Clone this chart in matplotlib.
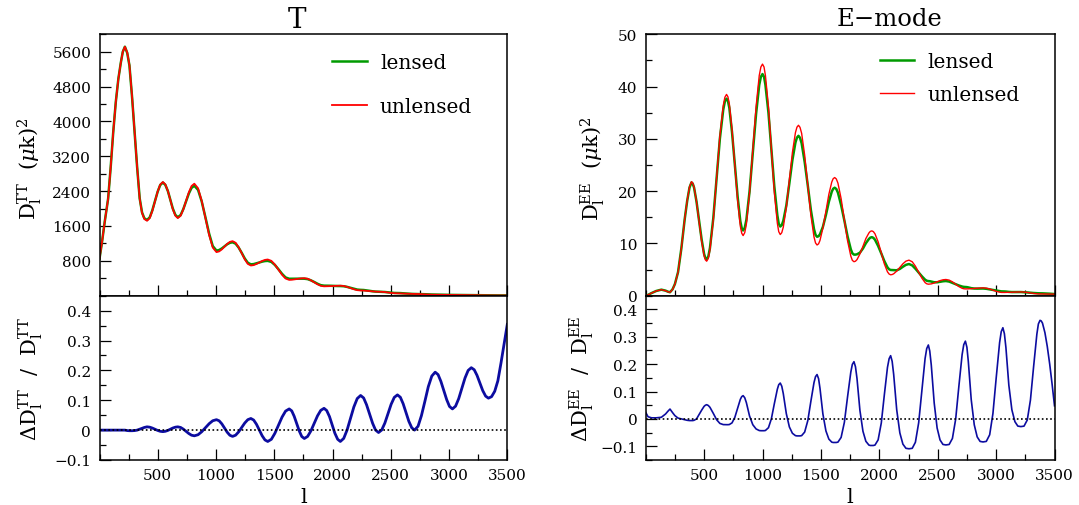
import numpy as np
import matplotlib
matplotlib.use("Agg")
import matplotlib.pyplot as plt
from matplotlib.ticker import MultipleLocator, FuncFormatter

# ---------------- data ----------------
# Temperature (TT) column
ell_tt = [0, 20, 45, 74, 96, 118, 140, 162, 183, 200, 218, 238, 257, 280, 301, 323, 345, 365, 385, 408,
          431, 453, 476, 499, 521, 544,
          565, 587, 608, 629, 651, 672,
          696, 719, 743, 767, 790, 814,
          846, 877, 909, 941, 972, 1004,
          1027, 1050, 1073, 1096, 1119, 1142,
          1168, 1194, 1221, 1247, 1273, 1299,
          1323, 1347, 1372, 1396, 1420, 1444,
          1475, 1505, 1536, 1567, 1597, 1628,
          1650, 1671, 1693, 1715, 1736, 1758,
          1786, 1814, 1843, 1871, 1899, 1927,
          1950, 1974, 1997, 2020, 2044, 2067,
          2096, 2125, 2154, 2183, 2212, 2241,
          2267, 2292, 2318, 2344, 2369, 2395,
          2422, 2449, 2476, 2503, 2530, 2557,
          2582, 2606, 2631, 2655, 2680, 2704,
          2734, 2763, 2793, 2822, 2852, 2881,
          2906, 2930, 2955, 2980, 3004, 3029,
          3056, 3083, 3110, 3137, 3164, 3191,
          3216, 3240, 3265, 3289, 3314, 3338,
          3365, 3392, 3419, 3446, 3473, 3500]

tt_unlensed = [850, 1200, 1700, 2226, 2950, 3760, 4450, 4980, 5350, 5600, 5715, 5580, 5293, 4550, 3760, 2950, 2226, 1900, 1760, 1720,
               1780, 1943, 2165, 2388, 2550, 2610,
               2554, 2403, 2196, 1988, 1837, 1781,
               1834, 1979, 2176, 2374, 2518, 2571,
               2466, 2178, 1786, 1393, 1105, 1000,
               1017, 1063, 1126, 1189, 1235, 1252,
               1215, 1112, 973, 833, 730, 693,
               702, 728, 762, 797, 822, 831,
               800, 714, 597, 480, 394, 363,
               366, 373, 382, 392, 398, 401,
               389, 354, 308, 262, 227, 215,
               216, 219, 222, 226, 229, 230,
               223, 202, 175, 148, 127, 120,
               118, 113, 106, 99, 94, 92,
               89, 83, 73, 64, 57, 55,
               54, 51, 47, 44, 41, 40,
               39, 35, 31, 26, 23, 22,
               22, 21, 19, 18, 17, 17,
               16, 15, 13, 12, 10, 10,
               10, 9, 9, 8, 8, 8,
               7, 7, 6, 6, 5, 5]

# relative difference (lensed - unlensed) / unlensed
tt_ratio = [0, 0, 0, 0, 0, 0, 0, 0, 0, 0, 0, -0.0015, -0.002, -0.002, -0.0015, 0.0, 0.003, 0.006, 0.009, 0.011,
            0.0099, 0.007, 0.003, -0.001, -0.0039, -0.005,
            -0.0039, -0.001, 0.003, 0.007, 0.0099, 0.011,
            0.009, 0.0035, -0.004, -0.0115, -0.017, -0.019,
            -0.0154, -0.0055, 0.008, 0.0215, 0.0314, 0.035,
            0.0312, 0.021, 0.007, -0.007, -0.0172, -0.021,
            -0.017, -0.006, 0.009, 0.024, 0.035, 0.039,
            0.0338, 0.0198, 0.0005, -0.0188, -0.0328, -0.038,
            -0.0307, -0.0108, 0.0165, 0.0438, 0.0637, 0.071,
            0.0644, 0.0463, 0.0215, -0.0033, -0.0214, -0.028,
            -0.0212, -0.0028, 0.0225, 0.0478, 0.0662, 0.073,
            0.0656, 0.0453, 0.0175, -0.0103, -0.0306, -0.038,
            -0.0277, 0.0005, 0.039, 0.0775, 0.1057, 0.116,
            0.1077, 0.085, 0.054, 0.023, 0.0003, -0.008,
            0.0004, 0.0235, 0.055, 0.0865, 0.1096, 0.118,
            0.1101, 0.0885, 0.059, 0.0295, 0.0079, 0.0,
            0.013, 0.0485, 0.097, 0.1455, 0.181, 0.194,
            0.1858, 0.1633, 0.1325, 0.1018, 0.0792, 0.071,
            0.0802, 0.1055, 0.140, 0.1745, 0.1998, 0.209,
            0.2022, 0.1835, 0.158, 0.1325, 0.1138, 0.107,
            0.112, 0.13, 0.165, 0.225, 0.29, 0.354]

# E-mode (EE) column
ell_ee = [0, 20, 50, 90, 134, 170, 190, 208, 230, 250, 277, 305, 334, 355, 375, 392,
          403, 414, 435, 457, 479, 500, 511, 522,
          536, 550, 579, 607, 635, 664, 678, 692,
          704, 716, 739, 763, 787, 810, 822, 834,
          848, 862, 889, 917, 945, 972, 986, 1000,
          1013, 1025, 1051, 1076, 1101, 1127, 1139, 1152,
          1165, 1178, 1204, 1230, 1256, 1282, 1295, 1308,
          1321, 1335, 1361, 1388, 1414, 1441, 1454, 1467,
          1480, 1492, 1517, 1543, 1568, 1593, 1605, 1618,
          1632, 1646, 1673, 1701, 1728, 1756, 1769, 1783,
          1796, 1809, 1834, 1860, 1885, 1911, 1923, 1936,
          1949, 1963, 1990, 2017, 2043, 2070, 2084, 2097,
          2110, 2123, 2149, 2176, 2202, 2228, 2254,
          2282, 2309, 2337, 2365, 2392, 2406, 2420,
          2432, 2445, 2470, 2495, 2520, 2545, 2570,
          2598, 2626, 2654, 2681, 2709, 2723, 2737,
          2750, 2762, 2787, 2813, 2838, 2863, 2888,
          2916, 2945, 2973, 3001, 3030, 3044, 3058,
          3071, 3084, 3109, 3135, 3161, 3186, 3212,
          3239, 3267, 3294, 3321, 3349, 3362, 3376,
          3386, 3397, 3418, 3438, 3459, 3480, 3500]

ee_unlensed = [0.0, 0.15, 0.5, 0.9, 1.15, 0.95, 0.75, 0.64, 1.2, 2.2, 4.5, 9.0, 14.7, 18.2, 20.8, 21.8,
               21.54, 20.78, 18.0, 14.2, 10.4, 7.62, 6.86, 6.6,
               7.14, 8.74, 14.58, 22.55, 30.53, 36.36, 37.96, 38.5,
               38.04, 36.69, 31.75, 25.0, 18.25, 13.31, 11.96, 11.5,
               12.06, 13.70, 19.70, 27.9, 36.1, 42.1, 43.74, 44.3,
               43.75, 42.12, 36.15, 28.0, 19.85, 13.88, 12.25, 11.7,
               12.06, 13.10, 16.93, 22.15, 27.38, 31.20, 32.24, 32.6,
               32.21, 31.07, 26.88, 21.15, 15.43, 11.23, 10.09, 9.7,
               9.92, 10.56, 12.93, 16.15, 19.38, 21.74, 22.38, 22.6,
               22.33, 21.52, 18.58, 14.55, 10.53, 7.58, 6.77, 6.5,
               6.6, 6.90, 7.98, 9.45, 10.93, 12.0, 12.3, 12.4,
               12.26, 11.84, 10.3, 8.2, 6.1, 4.56, 4.14, 4.0,
               4.05, 4.19, 4.7, 5.4, 6.1, 6.61, 6.8,
               6.49, 5.65, 4.5, 3.35, 2.51, 2.28, 2.2,
               2.22, 2.26, 2.43, 2.65, 2.88, 3.04, 3.1,
               2.98, 2.65, 2.2, 1.75, 1.42, 1.33, 1.3,
               1.3, 1.31, 1.35, 1.4, 1.45, 1.49, 1.5,
               1.44, 1.28, 1.06, 0.84, 0.68, 0.63, 0.62,
               0.62, 0.63, 0.65, 0.67, 0.70, 0.71, 0.72,
               0.69, 0.625, 0.53, 0.435, 0.365, 0.345, 0.34,
               0.337, 0.335, 0.33, 0.325, 0.32, 0.31, 0.3]

ee_ratio = [0.024, 0.008, 0.004, 0.004, 0.006, 0.018, 0.028, 0.036, 0.023, 0.012, 0.003, 0.0, -0.003, -0.005, -0.006, -0.006,
            -0.006, -0.005, 0.0, 0.016, 0.032, 0.046, 0.050, 0.052,
            0.049, 0.0425, 0.0201, -0.0028, -0.0164, -0.0207, -0.021, -0.021,
            -0.021, -0.0205, -0.0144, 0.0055, 0.0386, 0.0712, 0.0814, 0.085,
            0.0773, 0.0594, 0.0108, -0.0212, -0.0366, -0.0424, -0.043, -0.043,
            -0.043, -0.0422, -0.0321, 0.0005, 0.0549, 0.1084, 0.125, 0.131,
            0.1194, 0.0924, 0.0191, -0.0292, -0.0524, -0.061, -0.062, -0.062,
            -0.062, -0.061, -0.048, -0.006, 0.064, 0.1329, 0.1544, 0.162,
            0.1471, 0.1124, 0.0182, -0.0438, -0.0736, -0.0848, -0.086, -0.086,
            -0.086, -0.0847, -0.0676, -0.0123, 0.0799, 0.1707, 0.199, 0.209,
            0.1906, 0.1478, 0.0315, -0.045, -0.0817, -0.0955, -0.097, -0.097,
            -0.097, -0.0955, -0.0765, -0.015, 0.0875, 0.1884, 0.2199, 0.231,
            0.2106, 0.163, 0.0338, -0.0512, -0.092, -0.1073, -0.109,
            -0.1073, -0.0853, -0.0143, 0.1042, 0.2207, 0.2571, 0.270,
            0.2481, 0.197, 0.0583, -0.033, -0.0768, -0.0932, -0.095,
            -0.0933, -0.0713, -0.0003, 0.1182, 0.2347, 0.2711, 0.284,
            0.2619, 0.2104, 0.0706, -0.0214, -0.0656, -0.0822, -0.084,
            -0.0821, -0.0579, 0.0203, 0.1506, 0.2788, 0.3188, 0.333,
            0.3113, 0.2608, 0.1236, 0.0334, -0.01, -0.0262, -0.028,
            -0.0263, -0.0038, 0.069, 0.1903, 0.3096, 0.3468, 0.360,
            0.358, 0.350, 0.315, 0.265, 0.200, 0.125, 0.048]

tt_yticks = [800, 1600, 2400, 3200, 4000, 4800, 5600]
ee_yticks = [0, 10, 20, 30, 40, 50]
ratio_yticks = [-0.1, 0, 0.1, 0.2, 0.3, 0.4]
x_ticks = [500, 1000, 1500, 2000, 2500, 3000, 3500]

# lensed spectra follow from unlensed spectra and the plotted ratio
tt_lensed = np.array(tt_unlensed) * (1 + np.array(tt_ratio))
ee_lensed = np.array(ee_unlensed) * (1 + np.array(ee_ratio))

# ---------------- styling ----------------
plt.rcParams["font.family"] = ["DejaVu Serif"]
plt.rcParams["mathtext.fontset"] = "dejavuserif"
plt.rcParams["lines.solid_joinstyle"] = "round"

GREEN = "#009a00"
RED = "#ff0000"
BLUE = "#0c0ca0"

W, H = 1079, 506
fig = plt.figure(figsize=(W / 100, H / 100), dpi=100)

def frac_axes(x0, x1, ytop, ybot):
    return [x0 / W, 1 - ybot / H, (x1 - x0) / W, (ybot - ytop) / H]

axTT = fig.add_axes(frac_axes(99.5, 507.3, 35.3, 296.7))
axTTr = fig.add_axes(frac_axes(99.5, 507.3, 296.7, 461.0))
axEE = fig.add_axes(frac_axes(645.7, 1054.5, 35.3, 296.7))
axEEr = fig.add_axes(frac_axes(645.7, 1054.5, 296.7, 461.0))

def fmt_num(v, pos=None):
    if abs(v) < 1e-9:
        return "0"
    return ("%g" % v).replace("-", "\u2212")

def style(ax, bottom_labels):
    for s in ax.spines.values():
        s.set_linewidth(1.1)
    ax.set_xlim(0, 3500)
    ax.set_xticks(x_ticks)
    ax.xaxis.set_minor_locator(MultipleLocator(250))
    ax.tick_params(which="both", direction="in", top=False, right=False,
                   labelsize=11, width=0.9, pad=6)
    ax.tick_params(which="major", length=8)
    ax.tick_params(which="minor", length=4.3)
    ax.yaxis.set_major_formatter(FuncFormatter(fmt_num))
    ax.xaxis.set_major_formatter(FuncFormatter(fmt_num))
    if not bottom_labels:
        ax.tick_params(axis="x", labelbottom=False)

# --- TT top ---
axTT.plot(ell_tt, tt_lensed, color=GREEN, lw=1.8, label="lensed")
axTT.plot(ell_tt, tt_unlensed, color=RED, lw=1.3, label="unlensed")
style(axTT, False)
axTT.set_ylim(0, 6000)
axTT.set_yticks(tt_yticks)
axTT.yaxis.set_minor_locator(MultipleLocator(400))
axTT.set_ylabel(r"$\mathrm{D}_\mathrm{l}^\mathrm{TT}\ \ (\mu\mathrm{k})^2$", fontsize=15)
axTT.yaxis.set_label_coords(-0.172, 0.49)
axTT.legend(loc="upper left", bbox_to_anchor=(0.571, 0.93), frameon=False, fontsize=14.5,
            handlelength=1.73, handletextpad=0.63, labelspacing=1.25, borderpad=0, borderaxespad=0)

# --- TT ratio ---
axTTr.plot(ell_tt, tt_ratio, color=BLUE, lw=2.0)
axTTr.axhline(0, color="black", lw=1.2, ls=(0, (1, 1.5)))
style(axTTr, True)
axTTr.set_ylim(-0.1, 0.45)
axTTr.set_yticks(ratio_yticks)
axTTr.yaxis.set_minor_locator(MultipleLocator(0.05))
axTTr.set_ylabel(r"$\Delta\mathrm{D}_\mathrm{l}^\mathrm{TT}\ \ /\ \ \mathrm{D}_\mathrm{l}^\mathrm{TT}$", fontsize=15)
axTTr.yaxis.set_label_coords(-0.17, 0.5)
axTTr.set_xlabel("l", fontsize=15, va="center")
axTTr.xaxis.set_label_coords(0.5, -0.225)

# --- EE top ---
axEE.plot(ell_ee, ee_lensed, color=GREEN, lw=1.8, label="lensed")
axEE.plot(ell_ee, ee_unlensed, color=RED, lw=1.0, label="unlensed")
style(axEE, False)
axEE.set_ylim(0, 50)
axEE.set_yticks(ee_yticks)
axEE.yaxis.set_minor_locator(MultipleLocator(5))
axEE.set_ylabel(r"$\mathrm{D}_\mathrm{l}^\mathrm{EE}\ \ (\mu\mathrm{k})^2$", fontsize=15)
axEE.yaxis.set_label_coords(-0.13, 0.49)
axEE.legend(loc="upper left", bbox_to_anchor=(0.572, 0.932), frameon=False, fontsize=14.5,
            handlelength=1.73, handletextpad=0.63, labelspacing=0.7, borderpad=0, borderaxespad=0)

# --- EE ratio ---
axEEr.plot(ell_ee, ee_ratio, color=BLUE, lw=1.2)
axEEr.axhline(0, color="black", lw=1.2, ls=(0, (1, 1.5)))
style(axEEr, True)
axEEr.set_ylim(-0.15, 0.45)
axEEr.set_yticks(ratio_yticks)
axEEr.yaxis.set_minor_locator(MultipleLocator(0.05))
axEEr.set_ylabel(r"$\Delta\mathrm{D}_\mathrm{l}^\mathrm{EE}\ \ /\ \ \mathrm{D}_\mathrm{l}^\mathrm{EE}$", fontsize=15)
axEEr.yaxis.set_label_coords(-0.157, 0.5)
axEEr.set_xlabel("l", fontsize=15, va="center")
axEEr.xaxis.set_label_coords(0.5, -0.225)

for ax in (axTT, axTTr, axEE, axEEr):
    ax.yaxis.label.set_verticalalignment("center")

# titles
fig.text(297 / W, 1 - 20 / H, "T", ha="center", va="center", fontsize=20)
fig.text(889 / W, 1 - 20 / H, "E\u2212mode", ha="center", va="center", fontsize=17.5)

fig.savefig("out.png", dpi=100)
